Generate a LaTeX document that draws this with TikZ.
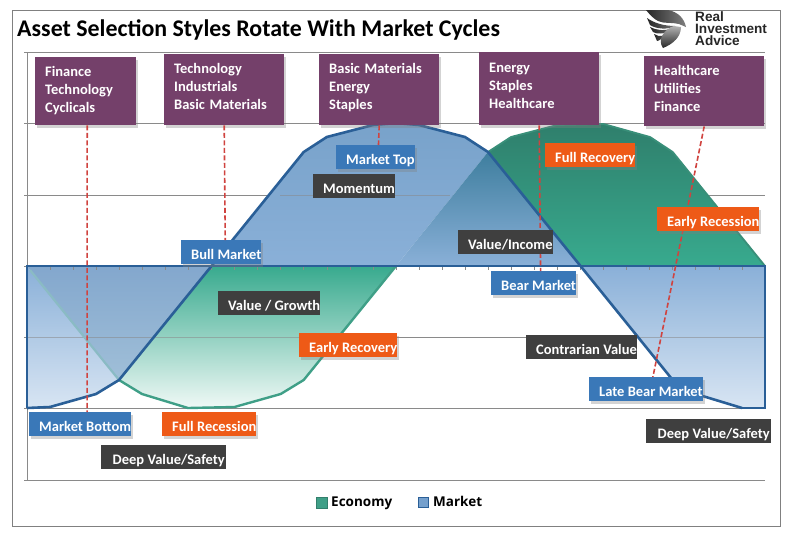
\documentclass[tikz,border=0pt]{standalone}
\usepackage{fontspec}
\setmainfont{Carlito}
\newfontfamily\legendfont{Open Sans}
\newfontfamily\logofont{Liberation Sans}
\usetikzlibrary{shadows}

\definecolor{sectorpurple}{HTML}{74406A}
\definecolor{phaseblue}{HTML}{3A78B8}
\definecolor{phaseorange}{HTML}{EE5A17}
\definecolor{styledark}{HTML}{3F3F3F}
\definecolor{leaderred}{HTML}{D0433F}
\definecolor{gridgray}{HTML}{8A8A8A}
\definecolor{marketline}{HTML}{2A5F97}
\definecolor{economyline}{HTML}{3F9F87}
\definecolor{marketlow}{HTML}{D8E5F3}
\definecolor{marketmid}{HTML}{8AB0D8}
\definecolor{markethigh}{HTML}{78A2CA}
\definecolor{bothhigh}{HTML}{3E7E9E}
\definecolor{bothlow}{HTML}{A0BFD8}
\definecolor{greenhigh}{HTML}{2F7F6C}
\definecolor{greenmid}{HTML}{38AA8E}
\definecolor{greenlow}{HTML}{F0F9F6}

% three lines, with room above the first and below the last
\newcommand{\threelines}[5]{\rule{0pt}{#1pt}#3\\#4\\\rule[-#2pt]{0pt}{#2pt}#5}

\begin{document}
\begin{tikzpicture}[x=1pt,y=-1pt,
  gridline/.style={draw=gridgray, line width=0.8pt},
  sectorbox/.style={anchor=north west, fill=sectorpurple, text=white, text width=#1,
    inner xsep=10pt, inner ysep=0pt, align=left, font=\fontsize{14.5}{18}\selectfont\bfseries,
    drop shadow={shadow xshift=2pt, shadow yshift=-3pt, opacity=.35}},
  tagbox/.style={anchor=north west, text=white, inner xsep=0pt, inner ysep=0pt,
    minimum height=24pt, text height=15pt, text depth=1pt, font=\fontsize{14.5}{18}\selectfont\bfseries,
    execute at begin node=\hspace*{10pt}},
  phasebox/.style={tagbox, fill=#1,
    drop shadow={shadow xshift=2pt, shadow yshift=-3pt, opacity=.35}},
  stylebox/.style={tagbox, fill=styledark},
  leader/.style={draw=leaderred, line width=1.6pt, dash pattern=on 5pt off 2.5pt},
  legendtext/.style={anchor=base west, inner sep=0pt, font=\legendfont\fontsize{13.5}{16}\selectfont\bfseries}
]
\useasboundingbox (0,0) rectangle (792,542);
\draw[gray, line width=0.9pt] (12.5,10.5) rectangle (780,526);

\node[anchor=base west, inner sep=0pt, font=\fontsize{23.9}{26}\selectfont\bfseries] (title) at (17,36)
  {Asset Selection Styles Rotate With Market Cycles};

% logo
\shade[left color=black!85, right color=black!50] (646,10) -- (668,10) .. controls (678,12) and (684,18) .. (686,27) -- (679,24) .. controls (672,22) and (664,24) .. (658,21) .. controls (654,19) and (650,15) .. cycle;
\shade[left color=black!85, right color=black!55] (647,18) .. controls (654,23) and (664,26) .. (675,26) .. controls (668,30) and (656,29) .. (650,25) -- cycle;
\shade[left color=black!85, right color=black!60] (650,27) .. controls (656,30) and (662,31) .. (671,29) .. controls (665,35) and (656,34) .. (653,32) -- cycle;
\shade[left color=black!85, right color=black!65] (654,34) .. controls (657,36) and (660,37) .. (665,35) .. controls (661,40) and (658,41) .. (657,41) -- cycle;
\shade[top color=black!30, bottom color=black!85] (681,27) .. controls (681,37) and (673,44) .. (663,48) .. controls (657,40) and (664,29) .. (674,26) -- cycle;
\node[anchor=north west, inner sep=0pt, align=left, text=black!85,
  font=\logofont\fontsize{13.6}{12.4}\selectfont\bfseries] (logotext) at (695,11) {Real\\Investment\\Advice};

% grid
\foreach \gy in {52,123,195,337,408,480}
  \draw[gridline] (24,\gy) -- (765,\gy);
\draw[gridline] (24,266) -- (27,266);
\draw[gridline] (27,52) -- (27,480);

% areas below the middle line
\shade[top color=marketmid, bottom color=marketlow]
  (27,266) -- (27,408) -- (50,407) -- (96,394) -- (119,380) -- cycle;
\shade[top color=marketmid!95!black, bottom color=bothlow]
  (27,266) -- (119,380) -- (211.5,266) -- cycle;
\shade[top color=greenmid, bottom color=greenlow]
  (211.5,266) -- (119,380) -- (142,394) -- (188,408) -- (234.5,407) -- (280.7,394) -- (303.7,380) -- (396,266) -- cycle;
\shade[top color=marketmid, bottom color=marketlow]
  (580.5,266) -- (672.7,380) -- (696,394) -- (742,408) -- (765,408) -- (765,266) -- cycle;

% areas above the middle line
\shade[top color=markethigh, bottom color=marketmid]
  (211.5,266) -- (303.7,152) -- (326.8,137) -- (373,125) -- (396,123) -- (419,125) -- (465,137) -- (488,152) -- (396,266) -- cycle;
\shade[top color=bothhigh, bottom color=marketmid]
  (396,266) -- (488,152) -- (580.5,266) -- cycle;
\shade[top color=greenhigh, bottom color=greenmid]
  (488,152) -- (511,137) -- (557,125) -- (603.5,124) -- (650,137) -- (672.7,152) -- (765,266) -- (580.5,266) -- cycle;

% grid seen through the blue
\draw[gridline, opacity=.55] (27,337) -- (396,337);
\draw[gridline, opacity=.55] (280,195) -- (450,195);
\draw[gridline, opacity=.55] (630,337) -- (765,337);

% ticks
\foreach \k in {1,...,31}
  \draw[gridgray, line width=0.5pt] (27+23.06*\k,267) -- (27+23.06*\k,270);

% economy
\draw[economyline!55!phaseblue!60, line width=2.2pt, line join=round] (30,270) -- (119,380);
\draw[economyline, line width=2.4pt, line join=round]
  (119,380) -- (142,394) -- (188,408) -- (234.5,407) -- (280.7,394) -- (303.7,380) -- (396,266);
\draw[economyline!90!black, line width=1.8pt, line join=round]
  (488,152) -- (511,137) -- (557,125) -- (603.5,124) -- (650,137) -- (672.7,152) -- (765,266);

% market
\draw[marketline, line width=1.6pt] (742,408) -- (765,408) -- (765,266) -- (27,266) -- (27,408);
\draw[marketline, line width=2.6pt, line join=round]
  (27,408) -- (50,407) -- (96,394) -- (119,380) -- (211.5,266) -- (303.7,152) -- (326.8,137) -- (373,125) -- (396,123) -- (419,125) -- (465,137) -- (488,152) -- (580.5,266) -- (672.7,380) -- (696,394) -- (742,408);

% sectors
\node[sectorbox=81pt] (finance) at (35,57) {\threelines{19.5}{12.5}{Finance}{Technology}{Cyclicals}};
\node[sectorbox=100pt] (tech) at (164,54) {\threelines{19.5}{15.5}{Technology}{Industrials}{Basic Materials}};
\node[sectorbox=100pt] (basic) at (319,54) {\threelines{19.5}{15.5}{Basic Materials}{Energy}{Staples}};
\node[sectorbox=100pt] (energy) at (479,52) {\threelines{20.5}{16.5}{Energy}{Staples}{Healthcare}};
\node[sectorbox=100pt] (health) at (644,56) {\threelines{19.5}{14.5}{Healthcare}{Utilities}{Finance}};

% market phases
\node[phasebox=phaseblue] (mtop) at (336,145) {Market Top};
\node[phasebox=phaseblue] (bull) at (181,240) {Bull Market};
\node[phasebox=phaseblue] (mbottom) at (29,412) {Market Bottom};
\node[phasebox=phaseblue] (bear) at (491,271) {Bear Market};
\node[phasebox=phaseblue] (late) at (589,377) {Late Bear Market};

\draw[leader] ([xshift=1.5pt]finance.south) -- ([xshift=7pt]mbottom.north);
\draw[leader] (tech.south) -- ([xshift=4pt]bull.north);
\draw[leader] (basic.south) -- ([xshift=3pt]mtop.north);
\draw[leader] (energy.south) -- ([xshift=7pt]bear.north);
\draw[leader] (health.south) -- ([xshift=7pt]late.north);

% economy phases
\node[phasebox=phaseorange] (fullrec) at (545,143) {Full Recovery};
\node[phasebox=phaseorange] (earlyrec) at (657,207) {Early Recession};
\node[phasebox=phaseorange] (earlyrecov) at (299,333) {Early Recovery};
\node[phasebox=phaseorange] (fullrecess) at (162,412) {Full Recession};

% styles
\node[stylebox] (momentum) at (313,174) {Momentum};
\node[stylebox] (income) at (458,230) {Value/Income};
\node[stylebox] (growth) at (218,291) {Value / Growth};
\node[stylebox] (contrarian) at (526,335) {Contrarian Value};
\node[stylebox, minimum width=125pt] (deepleft) at (101,445) {Deep Value/Safety};
\node[stylebox, minimum width=125pt] (deepright) at (646,419) {Deep Value/Safety};

% legend
\node[draw=economyline!80!black, fill=economyline, minimum size=11pt, inner sep=0pt] (ecokey) at (321.5,502.5) {};
\node[legendtext] (ecotext) at (331,506) {Economy};
\node[draw=marketline, fill=phaseblue!70, line width=1pt, minimum size=10pt, inner sep=0pt] (mktkey) at (423.5,502.5) {};
\node[legendtext] (mkttext) at (433,506) {Market};
\end{tikzpicture}
\end{document}
